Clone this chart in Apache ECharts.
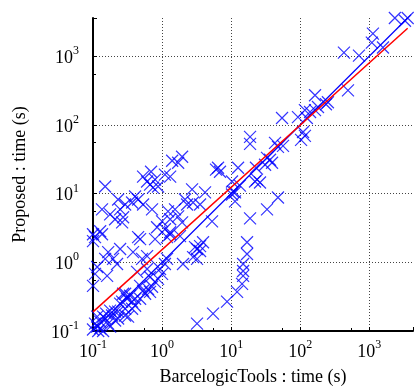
<!DOCTYPE html>
<html>
<head>
<meta charset="utf-8">
<title>BarcelogicTools vs Proposed</title>
<script src="https://cdn.jsdelivr.net/npm/echarts@6/dist/echarts.min.js"></script>
<style>
  html, body { margin: 0; padding: 0; background: #fff; }
  #main { width: 414px; height: 391px; }
</style>
</head>
<body>
<div id="main"></div>
<script type="text/javascript">
// run times in seconds: [BarcelogicTools, Proposed]
var largeRuns = [
  [2350,3600],[3600,3600],[3290,3280],[1130,2130],[1090,1580],[1580,1340],[430,1130],[710,1020],
  [492,319],[164,270],[252,214],[236,200],[117,164],[139,154],[164,164],[181,182],[92.9,130],
  [125,126],[54.6,126],[110,78.9],[117,69.2],[103,60.5],[18.8,66.8],[18.8,53.0],[43.2,54.7],
  [56.4,49.6],[47.7,47.9],[36.6,31.1],[33.1,33.2],[39.1,28.1],[31.0,26.3],[6.46,23.8],[6.90,20.8],
  [6.04,22.3],[12.6,23.8],[22.9,23.8],[22.2,15.0],[26.2,14.5],[23.7,16.0],[10.3,15.0],[13.4,13.1],
  [4.19,10.4],[10.6,10.7],[11.4,10.4],[10.3,9.7],[47.7,8.79],[11.4,7.69],[33.1,5.89],[18.8,4.37],
  [5.29,3.95]
];
var fasterRuns = [
  [17.0,1.96],[17.0,1.32],[14.9,0.944],[14.9,0.748],[14.9,0.634],[14.4,0.485],[12.2,0.372],
  [8.73,0.267],[5.47,0.179],[3.21,0.128],[3.55,1.72],[3.92,1.96],[3.21,1.56],[3.21,1.12],
  [3.00,1.66],[3.55,1.46],[2.81,1.19],[2.01,0.944],[1.95,3.82],[2.81,7.43],[3.55,6.95]
];
var slowerRuns = [
  [1.40,30.1],[1.95,34.4],[1.71,28.1],[0.693,20.8],[0.607,15.0],[0.792,16.0],[1.10,18.9],
  [0.875,12.7],[0.741,12.2],[0.670,13.5],[0.150,12.7],[2.72,11.5],[2.15,8.22],[2.30,6.95],
  [0.231,8.22],[0.407,9.08],[0.450,8.22],[0.368,7.43],[0.292,6.95],[0.247,5.89],[0.135,5.89],
  [0.177,4.99],[0.209,4.23],[0.264,3.82],[0.273,4.52],[0.716,5.89],[1.22,5.51],[1.54,5.89],
  [1.71,4.67],[1.31,4.23],[1.0,3.95],[0.847,3.24],[1.10,3.03],[1.31,2.56],[0.1,2.56],[0.127,2.83],
  [0.135,2.56],[0.450,2.32],[0.531,17.7],[1.31,17.7],[0.531,6.95],[1.82,2.40],[1.31,2.74],
  [0.107,2.32],[0.1,2.03],[0.481,2.17],[0.792,2.17],[1.18,2.32],[0.166,1.41],[0.247,1.56],
  [0.380,1.41],[0.195,1.12],[0.223,0.944],[0.150,1.12],[0.607,1.23],[0.514,1.12],[0.115,0.855],
  [0.160,0.634],[0.107,0.678],[0.1,0.454],[0.435,0.724],[1.18,1.12],[0.607,0.800]
];
var smallRuns = [
  [0.875,0.574],[0.792,0.519],[0.716,0.440],[0.627,0.411],[0.531,0.385],[0.292,0.348],[0.311,0.295],
  [0.264,0.267],[0.368,0.267],[0.407,0.233],[0.209,0.191],[0.189,0.168],[0.150,0.152],[0.127,0.137],
  [0.115,0.116],[0.119,0.1],[0.231,0.152],[0.322,0.162],[1.0,0.678],[0.935,0.800],[0.670,0.612],
  [0.481,0.454],[0.344,0.326],[0.247,0.250],[0.177,0.198],[0.140,0.162],[0.107,0.128],[0.1,0.105],
  [0.166,0.128],[0.127,0.109],[0.209,0.142],[0.292,0.211],[0.407,0.295],[0.568,0.348],[1.10,0.944],
  [0.273,0.348],[0.155,0.179],[0.115,0.162],[0.177,0.116],[0.14,0.1],[0.231,0.191],[0.292,0.168],
  [0.481,0.295],[0.67,0.372],[0.368,0.211]
];
// y = x reference and fitted trend (end points)
var identityLine = [[0.1,0.1],[3600,3600]];
var fitLine = [[0.1,0.19],[3600,2550]];

var serif = '"Liberation Serif", "DejaVu Serif", serif';

function powLabel(v) {
    var l = Math.log(v) / Math.LN10;
    var e = Math.round(l);
    if (Math.abs(l - e) > 1e-6) return '';
    return '{b|10}{s|' + e + '}';
}
var labelRich = {
    b: { fontFamily: serif, fontSize: 18, color: '#000', lineHeight: 22, verticalAlign: 'bottom' },
    s: { fontFamily: serif, fontSize: 12, color: '#000', lineHeight: 22, verticalAlign: 'top' }
};

function makeAxis(max, name, gap, margin) {
    return {
        type: 'log',
        logBase: 10,
        min: 0.1,
        max: max,
        name: name,
        nameLocation: 'middle',
        nameGap: gap,
        nameTextStyle: { fontFamily: serif, fontSize: 18, color: '#000' },
        axisLine: { lineStyle: { color: '#000', width: 2 } },
        axisTick: { inside: true, length: 4, lineStyle: { color: '#000' } },
        minorTick: { show: true, splitNumber: 2, length: 3, lineStyle: { color: '#000' } },
        axisLabel: { formatter: powLabel, rich: labelRich, margin: margin, showMaxLabel: false },
        splitLine: { show: true, showMaxLine: false, lineStyle: { color: '#444', width: 1, type: [1, 2] } }
    };
}

var myChart = echarts.init(document.getElementById('main'));
myChart.setOption({
    animation: false,
    grid: { left: 93, right: 1, top: 18, bottom: 58 },
    xAxis: makeAxis(4300, 'BarcelogicTools : time (s)', 37, 8),
    yAxis: makeAxis(3600, 'Proposed : time (s)', 64, 14),
    series: [
        {
            type: 'scatter',
            data: largeRuns.concat(fasterRuns, slowerRuns, smallRuns),
            symbol: 'path://M0,0L10,10M10,0L0,10',
            symbolSize: 12,
            itemStyle: { color: 'transparent', borderColor: '#0000ff', borderWidth: 1.2 },
            silent: true
        },
        {
            type: 'line',
            data: identityLine,
            symbol: 'none',
            lineStyle: { color: '#0000ff', width: 1.2 },
            silent: true
        },
        {
            type: 'line',
            data: fitLine,
            symbol: 'none',
            lineStyle: { color: '#ff0000', width: 1.5 },
            silent: true
        }
    ]
});
</script>
</body>
</html>
